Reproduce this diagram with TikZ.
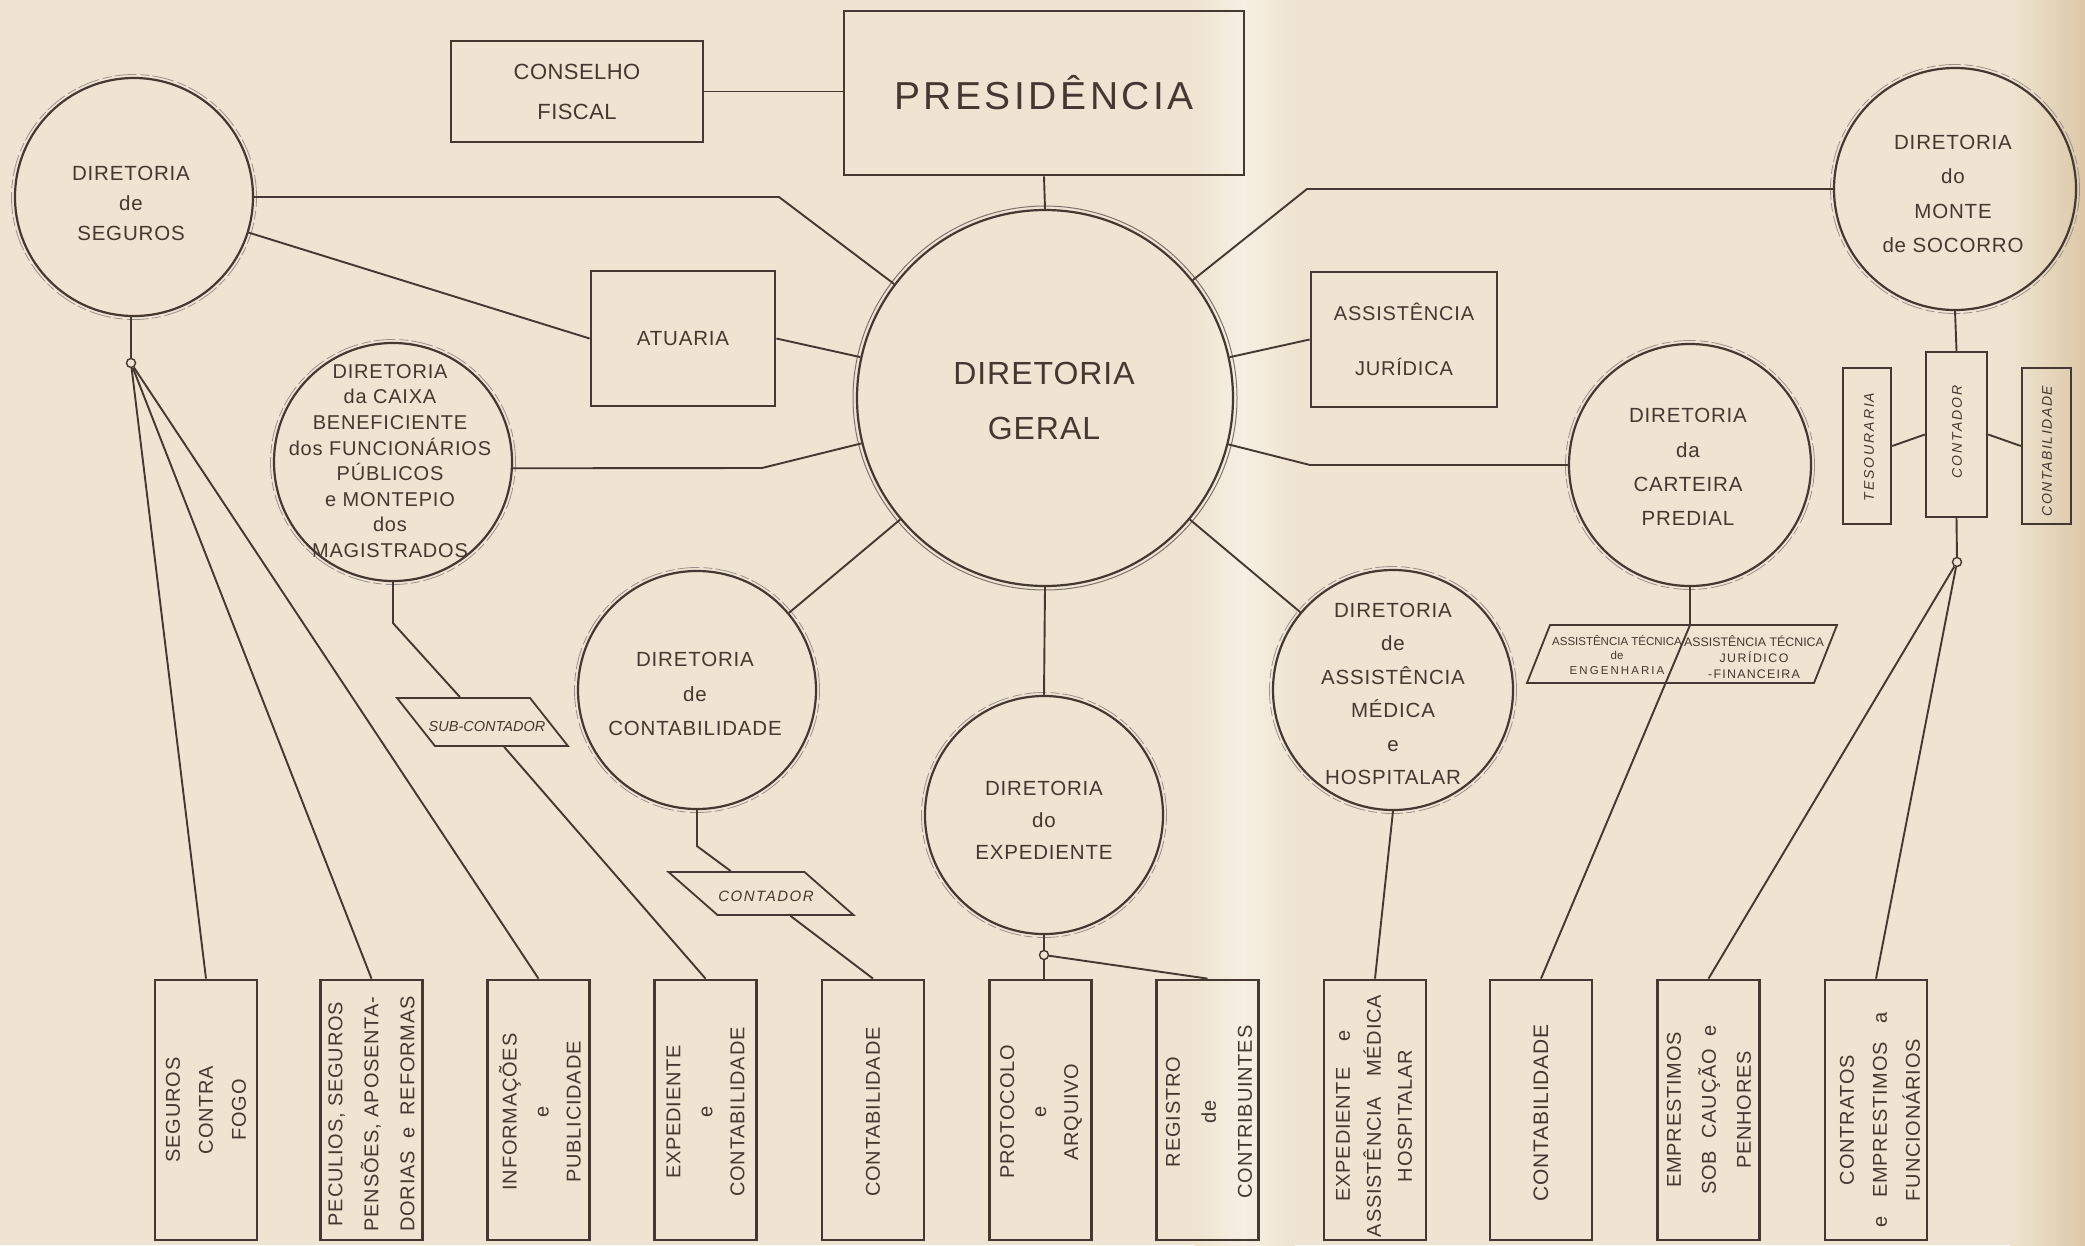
\documentclass[tikz,border=0pt]{standalone}
\usepackage{fontspec}
\setmainfont{Liberation Sans}[LetterSpace=4]
\definecolor{paper}{RGB}{239,228,209}
\definecolor{paperhi}{RGB}{246,239,226}
\definecolor{paperdk}{RGB}{220,200,168}
\definecolor{ink}{RGB}{68,56,48}
\newcommand\fs[2]{\fontsize{#1}{#2}\selectfont}
\newcommand\lsp[1]{\addfontfeatures{LetterSpace=#1}}
\begin{document}
\begin{tikzpicture}[x=1pt,y=-1pt,
  orgbox/.style={draw=ink, line width=2.8pt, rectangle, inner sep=0pt, text=ink, align=center},
  orgcirc/.style={draw=ink, line width=2.2pt, circle, inner sep=0pt},
  halo/.style={draw=ink!55, line width=0.8pt, dash pattern=on 22pt off 3pt on 9pt off 4pt},
  ctext/.style={text=ink, align=center, inner sep=0pt, font=\fs{20.5}{#1}},
  ctext/.default=30,
  conn/.style={draw=ink, line width=1.9pt},
  dotnode/.style={draw=ink, circle, fill=paper, line width=1.4pt, minimum size=9pt, inner sep=0pt},
  lowbox/.style={draw=ink, line width=2.8pt, rectangle, minimum width=102pt, minimum height=260pt, inner sep=0pt},
  lowtext/.style={text=ink, align=center, inner sep=0pt, rotate=90, font=\fs{20}{#1}},
  lowtext/.default=33,
  smallbox/.style={draw=ink, line width=2.4pt, rectangle, inner sep=0pt},
  sidetext/.style={text=ink, inner sep=0pt, rotate=90, font=\fs{14}{16}\itshape\lsp{14}},
  para/.style={draw=ink, line width=1.8pt, rectangle, inner sep=0pt},
  paratext/.style={text=ink, align=center, inner sep=0pt}
]
% background
\useasboundingbox (0,0) rectangle (2085,1245);
\fill[paper] (0,0) rectangle (2085,1245);
\shade[left color=paper, right color=paperhi] (1195,0) rectangle (1243,1245);
\shade[left color=paperhi, right color=paper] (1243,0) rectangle (1295,1245);
\shade[left color=paper, right color=paperdk] (2010,0) rectangle (2085,1245);

% top boxes
\node[orgbox, minimum width=400pt, minimum height=164pt, font=\fs{39}{44}\lsp{9}] (pres) at (1044,93) {PRESIDÊNCIA};
\node[orgbox, minimum width=252pt, minimum height=101pt, font=\fs{22}{40}\lsp{2}] (cons) at (577,91.5) {CONSELHO\\FISCAL};
\node[orgbox, minimum width=184pt, minimum height=135pt, font=\fs{20.5}{30}] (atu) at (683,338.5) {ATUARIA};
\node[orgbox, minimum width=186pt, minimum height=135pt, font=\fs{20}{55}] (jur) at (1404,339.5) {ASSISTÊNCIA\\JURÍDICA};

% circles
\node[orgcirc, minimum size=376pt] (geral) at (1045,398) {};
\node[orgcirc, minimum size=238pt] (seg) at (134,197) {};
\node[orgcirc, minimum size=238pt] (caixa) at (393,462) {};
\node[orgcirc, minimum size=242pt] (monte) at (1955,189) {};
\node[orgcirc, minimum size=242pt] (cart) at (1690,465) {};
\node[orgcirc, minimum size=238pt] (contab) at (697,690) {};
\node[orgcirc, minimum size=238pt] (exped) at (1044,815) {};
\node[orgcirc, minimum size=240pt] (medica) at (1393,690) {};
\draw[draw=ink!70, line width=1pt] (geral.center) circle[radius=192pt];
\foreach \n/\r in {seg/122.5pt, caixa/122.5pt, monte/124.5pt, cart/124.5pt, contab/122.5pt, exped/122.5pt, medica/123.5pt}
  \draw[halo] (\n.center) circle[radius=\r];

% circle texts
\node[ctext=55, font=\fs{32}{55}\lsp{3}] (geralT) at (1044,401) {DIRETORIA\\GERAL};
\node[ctext=30] (segT) at (131,203) {DIRETORIA\\de\\SEGUROS};
\node[ctext=25.6, font=\fs{20}{25.6}] (caixaT) at (390,461) {DIRETORIA\\da CAIXA\\BENEFICIENTE\\dos FUNCIONÁRIOS\\PÚBLICOS\\e MONTEPIO\\dos\\MAGISTRADOS};
\node[ctext=34.5] (monteT) at (1953,194) {DIRETORIA\\do\\MONTE\\de SOCORRO};
\node[ctext=34.3] (cartT) at (1688,467) {DIRETORIA\\da\\CARTEIRA\\PREDIAL};
\node[ctext=34.5] (contabT) at (695,694) {DIRETORIA\\de\\CONTABILIDADE};
\node[ctext=32] (expedT) at (1044,820) {DIRETORIA\\do\\EXPEDIENTE};
\node[ctext=33.4] (medicaT) at (1393,694) {DIRETORIA\\de\\ASSISTÊNCIA\\MÉDICA\\e\\HOSPITALAR};

% small junction dots
\node[dotnode] (segdot) at (131,363) {};
\node[dotnode] (expdot) at (1044,955) {};
\node[dotnode] (montedot) at (1957,562) {};

% monte de socorro side boxes
\node[smallbox, minimum width=48pt, minimum height=156pt] (tes) at (1867,446) {};
\node[smallbox, minimum width=61pt, minimum height=165pt] (ctd) at (1956.5,434.5) {};
\node[smallbox, minimum width=49pt, minimum height=156pt] (cbl) at (2046.5,446) {};
\node[sidetext] (tesT) at (1869,447) {TESOURARIA};
\node[sidetext] (ctdT) at (1957,432) {CONTADOR};
\node[sidetext, font=\fs{14}{16}\itshape\lsp{11}] (cblT) at (2047,451) {CONTABILIDADE};

% parallelograms (slanted rectangles)
\node[para, minimum width=133pt, minimum height=48pt, xslant=-0.79] (subc) at (482.5,722) {};
\node[paratext, font=\fs{14.5}{16}\itshape\lsp{0}] (subcT) at (487,726) {SUB-CONTADOR};
\node[para, minimum width=136pt, minimum height=43pt, xslant=-1.14] (ctdp) at (761,893.5) {};
\node[paratext, font=\fs{15}{16}\itshape\lsp{10}] (ctdpT) at (766,896) {CONTADOR};
\node[para, minimum width=287pt, minimum height=58pt, xslant=0.397] (assist) at (1682,654) {};
\node[paratext, font=\fs{11.5}{14.5}\lsp{0}] (assL) at (1617,655) {ASSISTÊNCIA TÉCNICA\\de\\{\lsp{18}ENGENHARIA}};
\node[paratext, font=\fs{12.4}{16}\lsp{0}] (assR) at (1754,657) {ASSISTÊNCIA TÉCNICA\\{\lsp{12}JURÍDICO}\\{\lsp{10}-FINANCEIRA}};

% bottom boxes
\foreach \i/\x in {1/206, 2/371.5, 3/538.5, 4/705.5, 5/873, 6/1040.5, 7/1207.5, 8/1375, 9/1541, 10/1708.5, 11/1876}
  \node[lowbox] (b\i) at (\x,1110) {};
\node[lowtext=33] (t1) at (206,1110) {SEGUROS\\CONTRA\\FOGO};
\node[lowtext=36] (t2) at (371.5,1114) {PECULIOS, SEGUROS\\PENSÕES, APOSENTA-\\DORIAS\hspace{6pt} e \hspace{6pt}REFORMAS};
\node[lowtext=32] (t3) at (540,1112) {INFORMAÇÕES\\e\\PUBLICIDADE};
\node[lowtext=32] (t4) at (705.5,1112) {EXPEDIENTE\\e\\CONTABILIDADE};
\node[lowtext=32] (t5) at (873,1112) {CONTABILIDADE};
\node[lowtext=32] (t6) at (1041,1112) {PROTOCOLO\\e\\ARQUIVO};
\node[lowtext=36] (t7) at (1209,1112) {REGISTRO\\de\\CONTRIBUINTES};
\node[lowtext=31] (t8) at (1374,1116) {EXPEDIENTE\hspace{26pt}e\\ASSISTÊNCIA\hspace{20pt}MÉDICA\\HOSPITALAR};
\node[lowtext=32, font=\fs{21}{32}] (t9) at (1541,1113) {CONTABILIDADE};
\node[lowtext=35] (t10) at (1709,1110) {EMPRESTIMOS\\SOB\hspace{6pt} CAUÇÃO \hspace{6pt}e\\PENHORES};
\node[lowtext=33] (t11) at (1880,1120) {CONTRATOS\\e\hspace{12pt} EMPRESTIMOS \hspace{12pt}a\\FUNCIONÁRIOS};

% connectors
\draw[conn] (cons.east) -- (cons.east -| pres.west);
\draw[conn] (pres.south) -- (geral.north);
\draw[conn] (seg.east) -- (779,197) -- (geral);
\draw[conn] (seg) -- (atu.west);
\draw[conn] (atu.east) -- (geral);
\draw[conn] (caixa.-3) -- (762,468) -- (geral);
\draw[conn] (jur.west) -- (geral);
\draw[conn] (monte.west) -- (1307,189) -- (geral);
\draw[conn] (geral) -- (1310,465) -- (cart.west);
\draw[conn] (geral) -- (contab);
\draw[conn] (geral) -- (medica);
\draw[conn] (geral.south) -- (exped.north);
\draw[conn] (seg.south -| segdot) -- (segdot);
\draw[conn] (segdot) -- (b1.north);
\draw[conn] (segdot) -- (b2.north);
\draw[conn] (segdot) -- (b3.north);
\draw[conn] (caixa.south) -- ++(0,41) -- (subc);
\draw[conn] (subc) -- (b4.north);
\draw[conn] (contab.south) -- ++(0,36) -- (ctdp);
\draw[conn] (ctdp) -- (b5.north);
\draw[conn] (exped.south) -- (expdot);
\draw[conn] (expdot) -- (expdot |- b6.north);
\draw[conn] (expdot) -- (b7.north);
\draw[conn] (medica.south) -- (b8.north);
\draw[conn] (cart.south) -- ++(0,38) -- (b9.north);
\draw[conn] (monte.south) -- (ctd.north);
\draw[conn] (tes.east) -- (ctd.west);
\draw[conn] (ctd.east) -- (cbl.west);
\draw[conn] (ctd.south) -- (montedot);
\draw[conn] (montedot) -- (b10.north);
\draw[conn] (montedot) -- (b11.north);
\end{tikzpicture}
\end{document}
